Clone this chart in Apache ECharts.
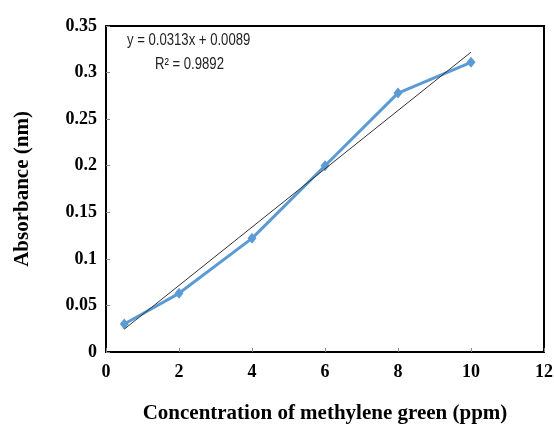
<!DOCTYPE html>
<html>
<head>
<meta charset="utf-8">
<script src="https://cdn.jsdelivr.net/npm/echarts@6/dist/echarts.min.js"></script>
<style>
html, body { margin: 0; padding: 0; background: #fff; }
#main { width: 554px; height: 426px; }
</style>
</head>
<body>
<div id="main"></div>
<script>
// measured points
var concX = [0.5, 2, 4, 6, 8, 10];
var absY = [0.030, 0.063, 0.122, 0.200, 0.278, 0.311];
// linear trendline end points
var trendX = [0.5, 10];
var trendY = [0.0245, 0.3219];
var eqText = "y = 0.0313x + 0.0089";
var r2Text = "R² = 0.9892";

var serif = "'Liberation Serif', 'Times New Roman', serif";
var sans = "'Liberation Sans', Arial, sans-serif";

var myChart = echarts.init(document.getElementById("main"));
myChart.setOption({
  animation: false,
  grid: {
    left: 106, right: 10, top: 26, bottom: 74,
    containLabel: false, outerBoundsMode: "none",
    show: true, borderColor: "#000", borderWidth: 2
  },
  xAxis: {
    type: "value", min: 0, max: 12, interval: 2,
    name: "Concentration of methylene green (ppm)",
    nameLocation: "middle", nameGap: 51,
    nameTextStyle: { fontFamily: serif, fontWeight: "bold", fontSize: 21, color: "#000" },
    axisLine: { lineStyle: { color: "#000", width: 2 } },
    axisTick: { inside: true, length: 4, lineStyle: { color: "#888" } },
    axisLabel: { fontFamily: serif, fontWeight: "bold", fontSize: 18, color: "#000", margin: 11 },
    splitLine: { show: false }
  },
  yAxis: {
    type: "value", min: 0, max: 0.35, interval: 0.05,
    name: "Absorbance (nm)",
    nameLocation: "middle", nameGap: 73,
    nameTextStyle: { fontFamily: serif, fontWeight: "bold", fontSize: 21, color: "#000" },
    axisLine: { lineStyle: { color: "#000", width: 2 } },
    axisTick: { inside: true, length: 4, lineStyle: { color: "#888" } },
    axisLabel: { fontFamily: serif, fontWeight: "bold", fontSize: 18, color: "#000", margin: 9 },
    splitLine: { show: false }
  },
  graphic: [
    { type: "text", x: 127, y: 33, scaleX: 0.82, style: { text: eqText, font: "16px " + sans, fill: "#222" } },
    { type: "text", x: 155, y: 57, scaleX: 0.82, style: { text: r2Text, font: "16px " + sans, fill: "#222" } }
  ],
  series: [
    {
      name: "Absorbance",
      type: "line",
      data: concX.map(function (x, i) { return [x, absY[i]]; }),
      symbol: "diamond",
      symbolSize: [9, 11],
      lineStyle: { color: "#5B9BD5", width: 3 },
      itemStyle: { color: "#5B9BD5" },
      z: 3
    },
    {
      name: "Linear",
      type: "line",
      data: trendX.map(function (x, i) { return [x, trendY[i]]; }),
      symbol: "none",
      lineStyle: { color: "#333", width: 1 },
      z: 4
    }
  ]
});
</script>
</body>
</html>
